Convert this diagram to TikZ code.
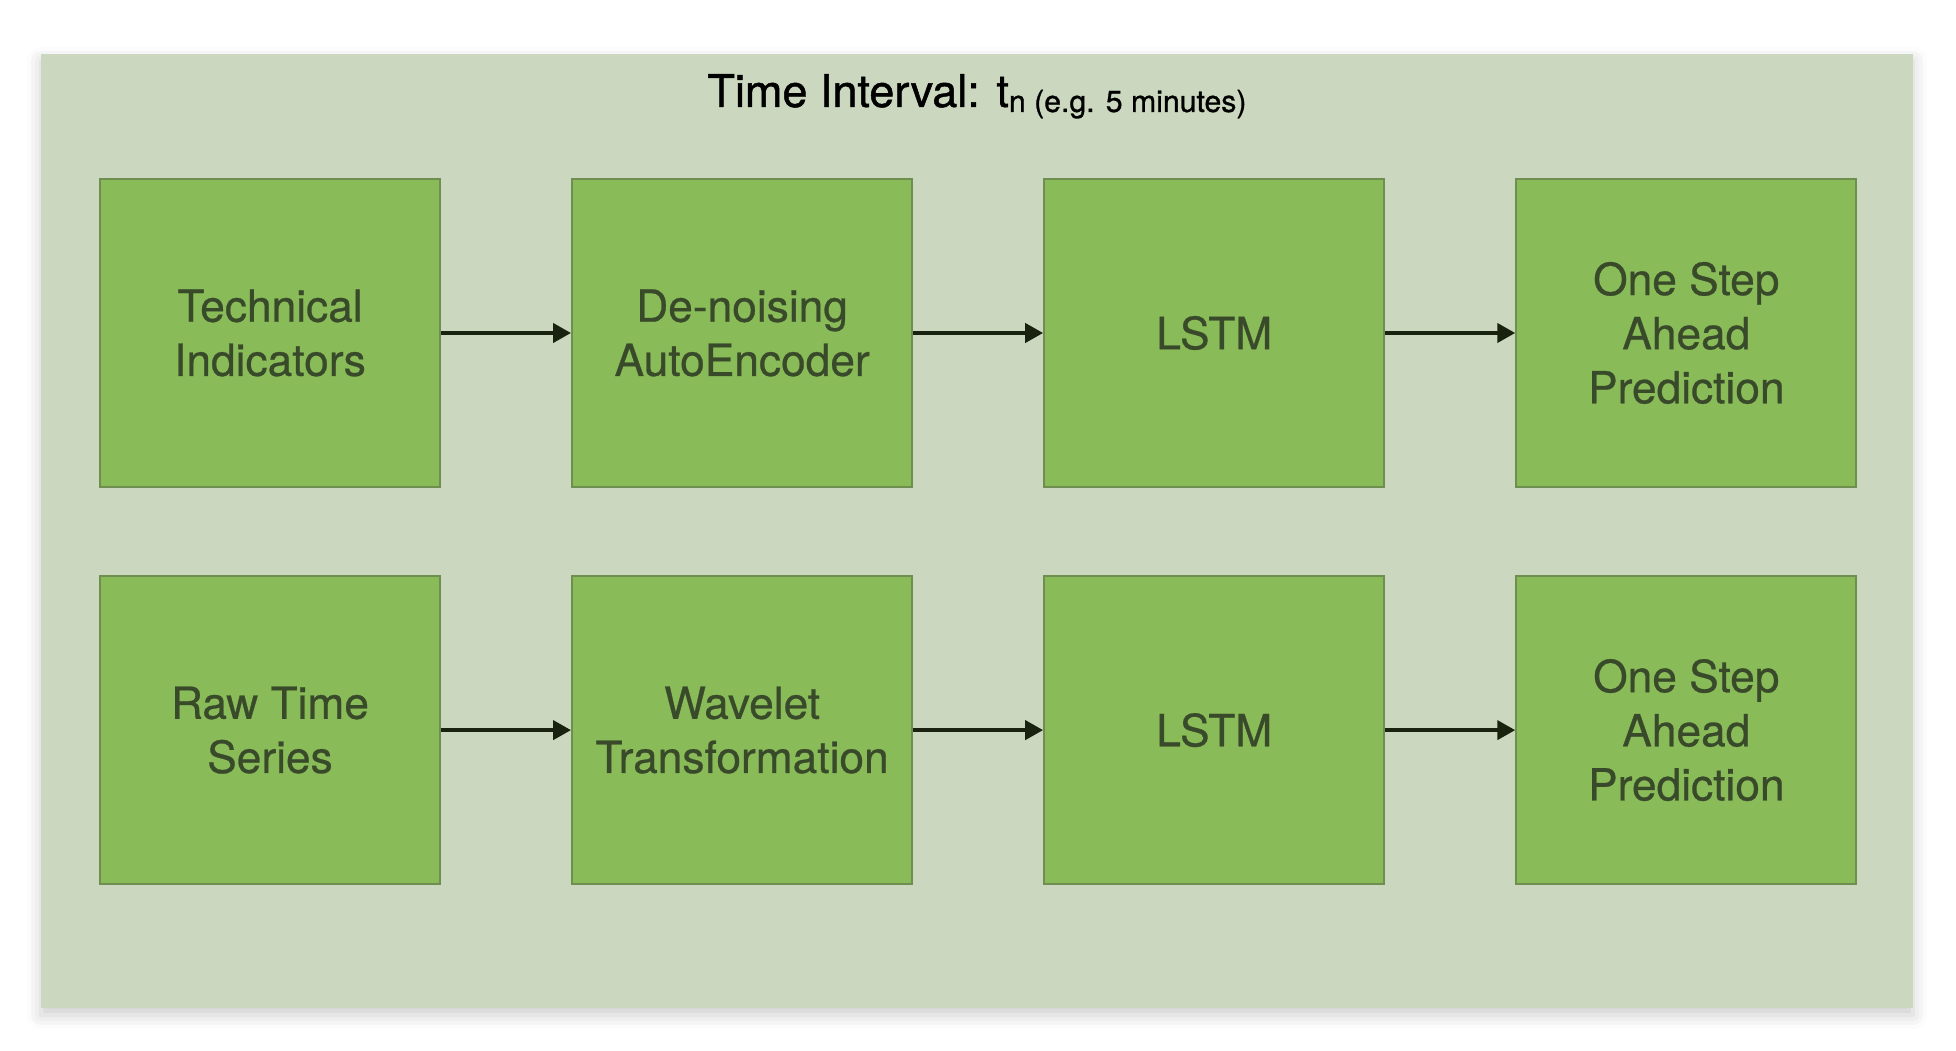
\documentclass[tikz,border=0pt]{standalone}
\usepackage{fontspec}
\setmainfont{TeX Gyre Heros}
\newfontfamily\stagefont{TeX Gyre Heros}[FakeBold=0.6]
\newfontfamily\titlefont{TeX Gyre Heros}[FakeBold=1]
\usetikzlibrary{positioning,arrows.meta,shadows.blur}
\definecolor{tsbg}{RGB}{203,216,191}
\definecolor{tsbox}{RGB}{137,187,88}
\definecolor{tsedge}{RGB}{110,143,80}
\definecolor{tstext}{RGB}{57,74,43}
\definecolor{tsarrow}{RGB}{24,34,14}

\begin{document}
\begin{tikzpicture}[
  stage/.style={draw=tsedge, fill=tsbox, line width=0.6pt, inner sep=0pt,
    minimum width=3.4cm, minimum height=3.08cm, align=center, text=tstext,
    font=\stagefont\fontsize{12.6pt}{15.4pt}\selectfont},
  flow/.style={draw=tsarrow, line width=0.04cm, -{Triangle[length=0.18cm,width=0.19cm]}}
]
\useasboundingbox (0,0) rectangle (19.56,10.50);

% Background panel
\fill[tsbg, blur shadow={shadow xshift=0pt, shadow yshift=-2pt, shadow blur radius=4pt, shadow opacity=20}] (0.41,0.42) rectangle (19.13,9.96);

% Title
\node[anchor=base, text=black] (title) at (9.77,9.43)
  {\titlefont\fontsize{12.8pt}{15pt}\selectfont Time Interval: t\raisebox{-1.4pt}{\fontsize{8.6pt}{10pt}\selectfont n (e.g. 5 minutes)}};

% Upper row
\node[stage] (tech) at (2.70,7.17) {Technical\\Indicators};
\node[stage, right=1.30cm of tech] (dae) {De-noising\\AutoEncoder};
\node[stage, right=1.30cm of dae] (lstmA) {LSTM};
\node[stage, right=1.30cm of lstmA] (predA) {One Step\\Ahead\\Prediction};

% Lower row
\node[stage, below=0.87cm of tech] (raw) {Raw Time\\Series};
\node[stage, right=1.30cm of raw] (wave) {Wavelet\\Transformation};
\node[stage, right=1.30cm of wave] (lstmB) {LSTM};
\node[stage, right=1.30cm of lstmB] (predB) {One Step\\Ahead\\Prediction};

% Arrows
\draw[flow] (tech) -- (dae);
\draw[flow] (dae) -- (lstmA);
\draw[flow] (lstmA) -- (predA);
\draw[flow] (raw) -- (wave);
\draw[flow] (wave) -- (lstmB);
\draw[flow] (lstmB) -- (predB);
\end{tikzpicture}
\end{document}
